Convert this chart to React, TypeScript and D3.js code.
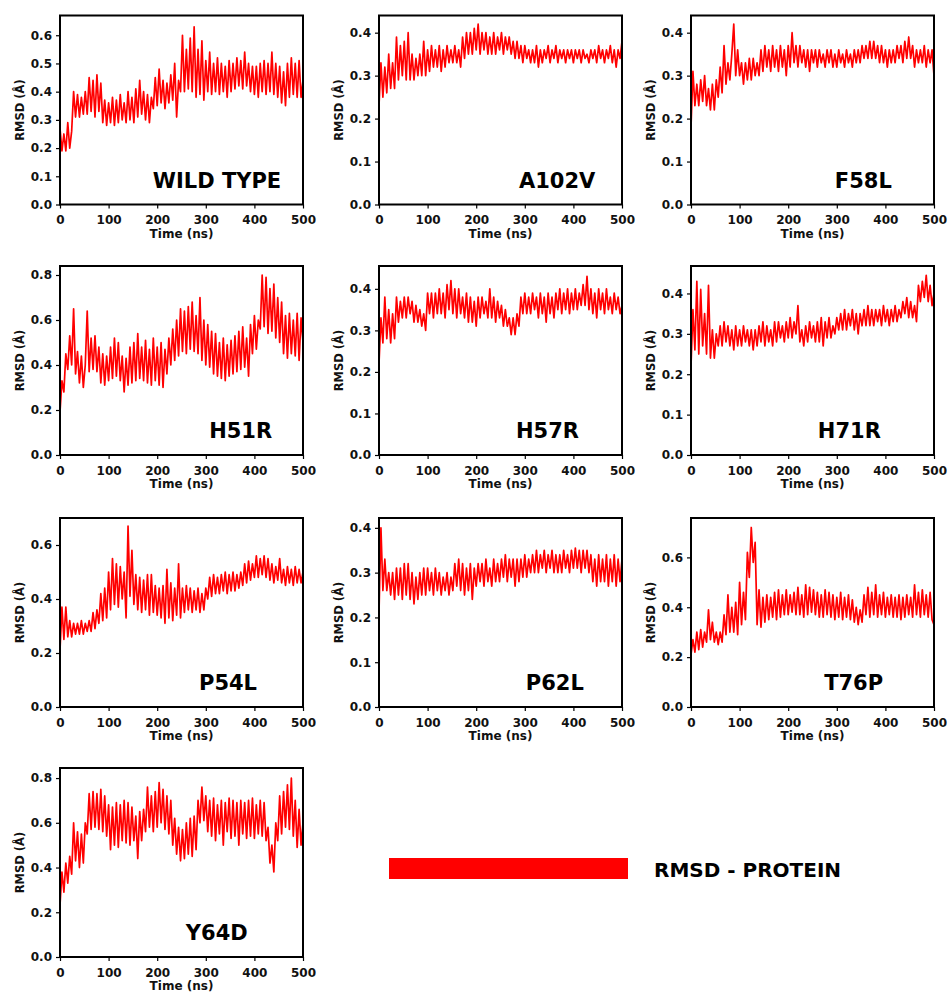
import React, { useEffect, useRef } from 'react';
import * as d3 from 'd3';

// RMSD traces (Å), one sample every 4 ns from 0 to 500 ns
const wildType = [
  0.27, 0.19, 0.25, 0.19, 0.29, 0.20, 0.26, 0.40, 0.31, 0.39,
  0.31, 0.38, 0.32, 0.40, 0.32, 0.45, 0.33, 0.44, 0.31, 0.46,
  0.33, 0.43, 0.29, 0.37, 0.28, 0.36, 0.29, 0.38, 0.28, 0.37,
  0.29, 0.39, 0.30, 0.36, 0.29, 0.40, 0.30, 0.38, 0.29, 0.41,
  0.31, 0.44, 0.32, 0.40, 0.30, 0.39, 0.29, 0.38, 0.34, 0.45,
  0.35, 0.48, 0.36, 0.44, 0.34, 0.43, 0.36, 0.46, 0.37, 0.50,
  0.31, 0.44, 0.40, 0.60, 0.40, 0.55, 0.41, 0.59, 0.40, 0.63,
  0.38, 0.55, 0.39, 0.58, 0.37, 0.51, 0.40, 0.54, 0.39, 0.50,
  0.40, 0.52, 0.39, 0.50, 0.40, 0.49, 0.38, 0.51, 0.40, 0.50,
  0.41, 0.52, 0.42, 0.51, 0.41, 0.54, 0.42, 0.50, 0.40, 0.49,
  0.39, 0.49, 0.38, 0.50, 0.40, 0.51, 0.39, 0.50, 0.40, 0.54,
  0.39, 0.50, 0.38, 0.49, 0.36, 0.47, 0.35, 0.50, 0.38, 0.52,
  0.39, 0.50, 0.38, 0.51, 0.38, 0.44,
];

const a102v = [
  0.23, 0.33, 0.25, 0.32, 0.26, 0.35, 0.27, 0.33, 0.27, 0.39,
  0.29, 0.37, 0.30, 0.38, 0.29, 0.40, 0.29, 0.35, 0.29, 0.34,
  0.30, 0.35, 0.30, 0.38, 0.30, 0.36, 0.31, 0.37, 0.32, 0.36,
  0.32, 0.37, 0.31, 0.36, 0.32, 0.37, 0.33, 0.36, 0.33, 0.37,
  0.33, 0.36, 0.32, 0.39, 0.34, 0.40, 0.35, 0.40, 0.35, 0.41,
  0.36, 0.42, 0.35, 0.40, 0.36, 0.40, 0.35, 0.39, 0.35, 0.40,
  0.35, 0.39, 0.36, 0.40, 0.35, 0.39, 0.36, 0.39, 0.35, 0.38,
  0.34, 0.38, 0.34, 0.37, 0.33, 0.37, 0.34, 0.36, 0.33, 0.36,
  0.33, 0.37, 0.32, 0.36, 0.33, 0.36, 0.34, 0.37, 0.33, 0.36,
  0.34, 0.37, 0.33, 0.36, 0.34, 0.36, 0.33, 0.36, 0.34, 0.36,
  0.33, 0.36, 0.34, 0.36, 0.33, 0.36, 0.34, 0.35, 0.33, 0.36,
  0.34, 0.36, 0.33, 0.37, 0.34, 0.36, 0.33, 0.36, 0.34, 0.37,
  0.33, 0.36, 0.32, 0.36, 0.34, 0.38,
];

const f58l = [
  0.18, 0.31, 0.23, 0.28, 0.23, 0.29, 0.24, 0.30, 0.23, 0.27,
  0.22, 0.28, 0.22, 0.29, 0.25, 0.32, 0.26, 0.37, 0.28, 0.33,
  0.29, 0.35, 0.42, 0.30, 0.36, 0.30, 0.33, 0.28, 0.33, 0.29,
  0.34, 0.29, 0.34, 0.30, 0.33, 0.30, 0.36, 0.31, 0.37, 0.32,
  0.36, 0.31, 0.37, 0.32, 0.36, 0.31, 0.37, 0.32, 0.36, 0.30,
  0.37, 0.32, 0.40, 0.33, 0.37, 0.32, 0.37, 0.33, 0.36, 0.32,
  0.36, 0.31, 0.36, 0.33, 0.36, 0.32, 0.36, 0.33, 0.35, 0.32,
  0.36, 0.33, 0.36, 0.32, 0.35, 0.32, 0.36, 0.33, 0.35, 0.32,
  0.36, 0.33, 0.35, 0.32, 0.36, 0.33, 0.36, 0.33, 0.37, 0.34,
  0.37, 0.34, 0.38, 0.34, 0.38, 0.34, 0.37, 0.33, 0.37, 0.33,
  0.36, 0.32, 0.36, 0.33, 0.36, 0.33, 0.37, 0.34, 0.37, 0.33,
  0.38, 0.34, 0.39, 0.34, 0.37, 0.32, 0.36, 0.33, 0.36, 0.33,
  0.37, 0.32, 0.36, 0.33, 0.36, 0.30,
];

const h51r = [
  0.19, 0.33, 0.28, 0.45, 0.38, 0.53, 0.40, 0.65, 0.36, 0.46,
  0.32, 0.44, 0.30, 0.40, 0.64, 0.37, 0.52, 0.38, 0.53, 0.37,
  0.48, 0.32, 0.45, 0.31, 0.44, 0.33, 0.48, 0.34, 0.52, 0.35,
  0.50, 0.33, 0.44, 0.28, 0.43, 0.31, 0.48, 0.32, 0.50, 0.33,
  0.54, 0.34, 0.48, 0.33, 0.51, 0.32, 0.47, 0.31, 0.52, 0.33,
  0.48, 0.31, 0.50, 0.30, 0.47, 0.36, 0.52, 0.40, 0.56, 0.42,
  0.60, 0.44, 0.65, 0.46, 0.64, 0.45, 0.66, 0.47, 0.68, 0.46,
  0.62, 0.45, 0.70, 0.42, 0.60, 0.40, 0.58, 0.39, 0.55, 0.36,
  0.54, 0.35, 0.50, 0.34, 0.52, 0.33, 0.49, 0.35, 0.51, 0.36,
  0.53, 0.37, 0.55, 0.38, 0.57, 0.39, 0.52, 0.35, 0.58, 0.45,
  0.62, 0.47, 0.60, 0.56, 0.80, 0.57, 0.79, 0.54, 0.74, 0.55,
  0.76, 0.52, 0.70, 0.50, 0.68, 0.45, 0.62, 0.43, 0.63, 0.45,
  0.60, 0.44, 0.63, 0.42, 0.61, 0.50,
];

const h57r = [
  0.22, 0.33, 0.27, 0.38, 0.28, 0.35, 0.27, 0.34, 0.28, 0.38,
  0.32, 0.37, 0.33, 0.38, 0.33, 0.38, 0.34, 0.37, 0.32, 0.36,
  0.32, 0.35, 0.31, 0.34, 0.30, 0.39, 0.34, 0.39, 0.33, 0.39,
  0.34, 0.40, 0.34, 0.39, 0.33, 0.41, 0.35, 0.42, 0.34, 0.40,
  0.33, 0.40, 0.34, 0.38, 0.33, 0.39, 0.32, 0.38, 0.32, 0.37,
  0.31, 0.38, 0.33, 0.38, 0.34, 0.37, 0.33, 0.40, 0.33, 0.38,
  0.32, 0.37, 0.33, 0.36, 0.31, 0.35, 0.31, 0.33, 0.29, 0.33,
  0.29, 0.34, 0.31, 0.38, 0.34, 0.39, 0.34, 0.38, 0.34, 0.39,
  0.35, 0.38, 0.33, 0.39, 0.34, 0.38, 0.32, 0.39, 0.34, 0.38,
  0.33, 0.39, 0.35, 0.40, 0.34, 0.39, 0.35, 0.40, 0.34, 0.39,
  0.35, 0.40, 0.35, 0.39, 0.36, 0.41, 0.36, 0.43, 0.35, 0.40,
  0.34, 0.39, 0.33, 0.40, 0.35, 0.39, 0.34, 0.40, 0.35, 0.38,
  0.34, 0.39, 0.35, 0.38, 0.34, 0.36,
];

const h71r = [
  0.22, 0.36, 0.26, 0.43, 0.25, 0.41, 0.27, 0.35, 0.25, 0.42,
  0.24, 0.31, 0.24, 0.30, 0.27, 0.32, 0.27, 0.33, 0.28, 0.32,
  0.27, 0.31, 0.26, 0.32, 0.27, 0.31, 0.27, 0.32, 0.28, 0.31,
  0.27, 0.31, 0.26, 0.31, 0.27, 0.32, 0.28, 0.33, 0.27, 0.32,
  0.28, 0.31, 0.27, 0.33, 0.28, 0.33, 0.29, 0.32, 0.28, 0.33,
  0.29, 0.34, 0.29, 0.33, 0.30, 0.37, 0.28, 0.31, 0.27, 0.32,
  0.28, 0.33, 0.29, 0.32, 0.28, 0.33, 0.28, 0.34, 0.27, 0.33,
  0.29, 0.34, 0.29, 0.32, 0.30, 0.34, 0.31, 0.35, 0.31, 0.36,
  0.31, 0.35, 0.32, 0.36, 0.31, 0.35, 0.30, 0.35, 0.32, 0.36,
  0.32, 0.37, 0.32, 0.36, 0.32, 0.36, 0.33, 0.36, 0.32, 0.37,
  0.33, 0.36, 0.32, 0.36, 0.33, 0.37, 0.33, 0.36, 0.34, 0.38,
  0.35, 0.39, 0.34, 0.38, 0.34, 0.37, 0.33, 0.42, 0.38, 0.43,
  0.39, 0.445, 0.38, 0.42, 0.37, 0.40,
];

const p54l = [
  0.21, 0.37, 0.25, 0.37, 0.26, 0.32, 0.26, 0.31, 0.27, 0.31,
  0.27, 0.32, 0.27, 0.31, 0.28, 0.32, 0.28, 0.35, 0.29, 0.36,
  0.31, 0.42, 0.32, 0.44, 0.33, 0.50, 0.36, 0.55, 0.38, 0.53,
  0.37, 0.52, 0.40, 0.50, 0.33, 0.67, 0.41, 0.58, 0.38, 0.49,
  0.36, 0.48, 0.35, 0.47, 0.36, 0.49, 0.34, 0.49, 0.35, 0.45,
  0.34, 0.44, 0.33, 0.45, 0.31, 0.51, 0.33, 0.46, 0.32, 0.44,
  0.34, 0.53, 0.33, 0.44, 0.35, 0.45, 0.36, 0.44, 0.35, 0.43,
  0.36, 0.44, 0.35, 0.42, 0.36, 0.44, 0.40, 0.48, 0.41, 0.49,
  0.42, 0.48, 0.42, 0.49, 0.43, 0.50, 0.42, 0.49, 0.43, 0.50,
  0.43, 0.49, 0.44, 0.50, 0.45, 0.53, 0.46, 0.54, 0.47, 0.53,
  0.48, 0.56, 0.48, 0.55, 0.49, 0.56, 0.48, 0.55, 0.47, 0.53,
  0.46, 0.52, 0.47, 0.55, 0.46, 0.51, 0.45, 0.52, 0.46, 0.51,
  0.45, 0.52, 0.46, 0.51, 0.46, 0.50,
];

const p62l = [
  0.21, 0.40, 0.26, 0.33, 0.26, 0.30, 0.25, 0.30, 0.24, 0.31,
  0.25, 0.31, 0.24, 0.32, 0.25, 0.32, 0.24, 0.30, 0.23, 0.29,
  0.24, 0.30, 0.25, 0.31, 0.25, 0.31, 0.26, 0.30, 0.25, 0.31,
  0.26, 0.30, 0.25, 0.29, 0.26, 0.30, 0.25, 0.29, 0.26, 0.32,
  0.27, 0.33, 0.26, 0.32, 0.25, 0.31, 0.26, 0.32, 0.24, 0.31,
  0.27, 0.32, 0.28, 0.32, 0.27, 0.33, 0.28, 0.31, 0.27, 0.33,
  0.28, 0.32, 0.28, 0.33, 0.29, 0.34, 0.28, 0.33, 0.29, 0.33,
  0.27, 0.33, 0.28, 0.33, 0.29, 0.34, 0.29, 0.33, 0.30, 0.34,
  0.30, 0.35, 0.30, 0.34, 0.31, 0.35, 0.30, 0.34, 0.31, 0.35,
  0.30, 0.34, 0.30, 0.34, 0.30, 0.35, 0.31, 0.34, 0.30, 0.35,
  0.31, 0.355, 0.31, 0.35, 0.30, 0.35, 0.31, 0.35, 0.30, 0.34,
  0.28, 0.33, 0.27, 0.34, 0.28, 0.33, 0.28, 0.34, 0.27, 0.33,
  0.28, 0.34, 0.27, 0.33, 0.28, 0.33,
];

const t76p = [
  0.21, 0.27, 0.22, 0.30, 0.23, 0.31, 0.24, 0.30, 0.26, 0.39,
  0.27, 0.34, 0.26, 0.30, 0.25, 0.30, 0.26, 0.37, 0.29, 0.45,
  0.30, 0.40, 0.30, 0.42, 0.29, 0.50, 0.33, 0.46, 0.35, 0.62,
  0.52, 0.72, 0.58, 0.66, 0.33, 0.47, 0.32, 0.44, 0.34, 0.45,
  0.35, 0.44, 0.36, 0.46, 0.35, 0.47, 0.36, 0.45, 0.37, 0.47,
  0.37, 0.45, 0.38, 0.46, 0.37, 0.48, 0.37, 0.45, 0.36, 0.49,
  0.37, 0.48, 0.38, 0.47, 0.37, 0.46, 0.36, 0.45, 0.36, 0.47,
  0.37, 0.46, 0.36, 0.45, 0.35, 0.44, 0.36, 0.46, 0.35, 0.44,
  0.36, 0.45, 0.35, 0.43, 0.34, 0.40, 0.33, 0.39, 0.34, 0.45,
  0.37, 0.48, 0.36, 0.46, 0.37, 0.49, 0.36, 0.45, 0.37, 0.46,
  0.36, 0.44, 0.37, 0.45, 0.36, 0.44, 0.36, 0.45, 0.35, 0.44,
  0.36, 0.45, 0.37, 0.44, 0.36, 0.49, 0.37, 0.46, 0.36, 0.47,
  0.37, 0.45, 0.36, 0.46, 0.35, 0.33,
];

const y64d = [
  0.23, 0.38, 0.29, 0.42, 0.33, 0.45, 0.37, 0.60, 0.43, 0.56,
  0.40, 0.55, 0.42, 0.60, 0.55, 0.73, 0.57, 0.74, 0.58, 0.73,
  0.57, 0.75, 0.56, 0.72, 0.54, 0.68, 0.48, 0.67, 0.50, 0.69,
  0.49, 0.68, 0.52, 0.70, 0.51, 0.69, 0.50, 0.67, 0.52, 0.63,
  0.44, 0.65, 0.52, 0.66, 0.56, 0.76, 0.58, 0.72, 0.56, 0.74,
  0.58, 0.78, 0.60, 0.75, 0.57, 0.72, 0.55, 0.70, 0.50, 0.62,
  0.46, 0.58, 0.43, 0.57, 0.44, 0.60, 0.46, 0.62, 0.45, 0.63,
  0.48, 0.70, 0.60, 0.76, 0.61, 0.72, 0.56, 0.70, 0.54, 0.71,
  0.52, 0.68, 0.55, 0.70, 0.50, 0.69, 0.56, 0.71, 0.53, 0.70,
  0.54, 0.69, 0.50, 0.70, 0.55, 0.69, 0.53, 0.70, 0.54, 0.71,
  0.53, 0.68, 0.55, 0.70, 0.54, 0.69, 0.52, 0.58, 0.42, 0.50,
  0.38, 0.60, 0.52, 0.72, 0.55, 0.74, 0.58, 0.77, 0.57, 0.80,
  0.54, 0.70, 0.49, 0.66, 0.50, 0.60,
];

const panelNames = ['WILD TYPE', 'A102V', 'F58L', 'H51R', 'H57R', 'H71R', 'P54L', 'P62L', 'T76P', 'Y64D'];
const panelSeries = [wildType, a102v, f58l, h51r, h57r, h71r, p54l, p62l, t76p, y64d];
const yMaxes = [0.67, 0.44, 0.44, 0.84, 0.455, 0.468, 0.70, 0.422, 0.758, 0.845];
const yTickSteps = [0.1, 0.1, 0.1, 0.2, 0.1, 0.1, 0.2, 0.1, 0.2, 0.2];
const xTicks = [0, 100, 200, 300, 400, 500];
const legendLabel = 'RMSD - PROTEIN';

// where each mutant name sits (time in ns for its left edge)
const nameAt = [191, 288, 296, 307, 282, 261, 286, 302, 274, 259];

const FONT = "'DejaVu Sans', sans-serif";

const App = () => {
  const svgRef = useRef(null);

  useEffect(() => {
    if (!svgRef.current) return;
    const svg = d3.select(svgRef.current);
    svg.selectAll('*').remove();

    const colX = [60, 379, 691];
    const rowY = [15.5, 266, 518, 768];
    const w = 243;
    const h = 189;

    panelSeries.forEach((values, i) => {
      const g = svg.append('g')
        .attr('transform', `translate(${colX[i % 3]},${rowY[Math.floor(i / 3)]})`);

      const x = d3.scaleLinear().domain([0, 500]).range([0, w]);
      const y = d3.scaleLinear().domain([0, yMaxes[i]]).range([h, 0]);
      const step = 500 / (values.length - 1);

      const line = d3.line<number>()
        .x((d, j) => x(j * step))
        .y(d => y(d));

      g.append('path')
        .datum(values)
        .attr('d', line)
        .attr('fill', 'none')
        .attr('stroke', '#ff0000')
        .attr('stroke-width', 1.7)
        .attr('stroke-linejoin', 'round');

      // x axis
      const xAxis = g.append('g')
        .attr('transform', `translate(0,${h})`)
        .call(d3.axisBottom(x).tickValues(xTicks).tickSize(4).tickPadding(7).tickFormat(d3.format('d')));
      xAxis.select('.domain').remove();

      // y axis
      const yTicks = d3.range(0, yMaxes[i] + 1e-9, yTickSteps[i]);
      const yAxis = g.append('g')
        .call(d3.axisLeft(y).tickValues(yTicks).tickSize(4).tickPadding(4).tickFormat(d3.format('.1f')));
      yAxis.select('.domain').remove();

      g.selectAll('.tick line').attr('stroke', '#000').attr('stroke-width', 1.2);
      g.selectAll('.tick text')
        .attr('fill', '#111')
        .style('font-family', FONT)
        .style('font-weight', 'bold')
        .style('font-size', '12px');

      // frame
      g.append('rect')
        .attr('width', w)
        .attr('height', h)
        .attr('fill', 'none')
        .attr('stroke', '#000')
        .attr('stroke-width', 2);

      g.append('text')
        .attr('x', w / 2)
        .attr('y', h + 33)
        .attr('text-anchor', 'middle')
        .style('font-family', FONT)
        .style('font-weight', 'bold')
        .style('font-size', '12px')
        .attr('fill', '#111')
        .text('Time (ns)');

      g.append('text')
        .attr('transform', `translate(-36,${h / 2}) rotate(-90)`)
        .attr('text-anchor', 'middle')
        .style('font-family', FONT)
        .style('font-weight', 'bold')
        .style('font-size', '11.5px')
        .attr('fill', '#111')
        .text('RMSD (Å)');

      g.append('text')
        .attr('x', x(nameAt[i]))
        .attr('y', h - 17)
        .style('font-family', FONT)
        .style('font-weight', 'bold')
        .style('font-size', '21px')
        .attr('fill', '#000')
        .text(panelNames[i]);
    });

    // legend
    const legend = svg.append('g').attr('transform', 'translate(389,858)');
    legend.append('rect')
      .attr('width', 239)
      .attr('height', 21)
      .attr('fill', '#ff0000');
    legend.append('text')
      .attr('x', 265)
      .attr('y', 18.5)
      .style('font-family', FONT)
      .style('font-weight', 'bold')
      .style('font-size', '20px')
      .attr('fill', '#000')
      .text(legendLabel);
  }, []);

  return (
    <svg
      ref={svgRef}
      width={948}
      height={992}
      style={{ position: 'absolute', left: 0, top: 0, background: '#fff' }}
    />
  );
};

export default App;
